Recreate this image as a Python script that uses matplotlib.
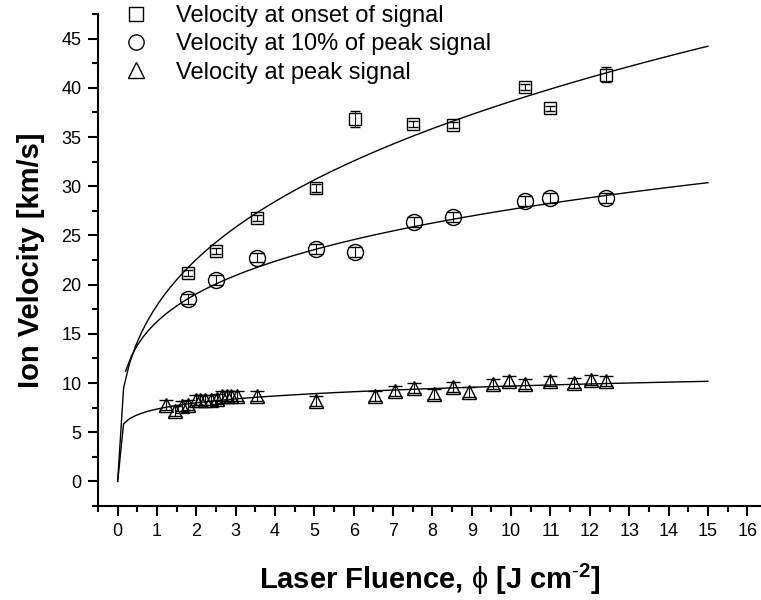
import numpy as np
import matplotlib
matplotlib.use('Agg')
import matplotlib.pyplot as plt
from matplotlib.ticker import MultipleLocator
from matplotlib.lines import Line2D

plt.rcParams['font.family'] = ['Liberation Sans', 'DejaVu Sans']
plt.rcParams['mathtext.fontset'] = 'custom'
plt.rcParams['mathtext.rm'] = 'Liberation Sans'
plt.rcParams['mathtext.bf'] = 'Liberation Sans:bold'

# velocity at onset of signal (squares)
onset_x = [1.78, 2.51, 3.55, 5.05, 6.02, 7.50, 8.51, 10.36, 11.00, 12.41]
onset_y = [21.2, 23.4, 26.75, 29.85, 36.8, 36.3, 36.2, 40.1, 37.9, 41.35]
onset_err = [0.3, 0.3, 0.3, 0.4, 0.8, 0.3, 0.3, 0.3, 0.3, 0.75]

# velocity at 10% of peak signal (circles)
ten_x = [1.78, 2.51, 3.55, 5.05, 6.02, 7.52, 8.51, 10.36, 11.00, 12.41]
ten_y = [18.56, 20.5, 22.75, 23.6, 23.3, 26.37, 26.9, 28.5, 28.84, 28.84]
ten_err = [0.5, 0.5, 0.5, 0.5, 0.5, 0.5, 0.5, 0.5, 0.5, 0.5]

# velocity at peak signal (triangles)
peak_x = [1.24, 1.45, 1.64, 1.78, 1.98, 2.10, 2.23, 2.36, 2.53, 2.64, 2.77, 2.89,
          3.02, 3.53, 5.05, 6.53, 7.06, 7.52, 8.05, 8.51, 8.93, 9.55, 9.95, 10.36,
          11.00, 11.60, 12.02, 12.41]
peak_y = [7.8, 7.13, 7.7, 7.8, 8.28, 8.28, 8.28, 8.28, 8.39, 8.72, 8.72, 8.72,
          8.72, 8.72, 8.15, 8.72, 9.16, 9.5, 8.9, 9.56, 9.06, 9.9, 10.17, 9.9,
          10.24, 9.97, 10.34, 10.17]
peak_err = [0.5] * len(peak_x)

# power law fits y = a * x^b, x range of each curve
fit_a = [17.9, 16.24, 7.35]
fit_b = [0.334, 0.231, 0.12]
fit_start = [0.0, 0.2, 0.0]
fit_end = 15.0

labels = ['Velocity at onset of signal', 'Velocity at 10% of peak signal',
          'Velocity at peak signal']
markers = ['s', 'o', '^']
sizes = [8, 11.5, 10.5]
legend_sizes = [9.5, 11, 12]

fig = plt.figure(figsize=(7.61, 6.0), dpi=100)
ax = fig.add_axes([98/761, 1 - 506/600, 1 - 98/761, (506 - 14)/600])

for a, b, x0 in zip(fit_a, fit_b, fit_start):
    xs = np.linspace(x0, fit_end, 101)
    ax.plot(xs, a * xs**b, color='k', lw=1.0)

series = [(onset_x, onset_y, onset_err), (ten_x, ten_y, ten_err), (peak_x, peak_y, peak_err)]
for (x, y, e), m, s in zip(series, markers, sizes):
    ax.errorbar(x, y, yerr=e, fmt=m, ms=s, mfc='none', mec='k', mew=1.0,
                ecolor='k', elinewidth=0.8, capsize=s*0.45, capthick=0.8)

ax.set_xlim(-0.5, 16.35)
ax.set_ylim(-2.5, 47.5)
ax.xaxis.set_major_locator(MultipleLocator(1))
ax.xaxis.set_minor_locator(MultipleLocator(0.5))
ax.yaxis.set_major_locator(MultipleLocator(5))
ax.yaxis.set_minor_locator(MultipleLocator(2.5))
ax.spines['top'].set_visible(False)
ax.spines['right'].set_visible(False)
ax.spines['left'].set_linewidth(1.5)
ax.spines['bottom'].set_linewidth(1.5)
ax.tick_params(which='major', direction='out', length=7, width=1.5, labelsize=13, pad=5)
ax.tick_params(which='minor', direction='out', length=4, width=1.5)
ax.set_xticks(range(0, 17))
ax.set_yticks(range(0, 46, 5))

ax.set_xlabel(r'Laser Fluence, $\mathrm{\phi}$ [J cm$^{\mathbf{\text{-}2}}$]', fontsize=21,
              fontweight='bold', labelpad=16)
ax.set_ylabel('Ion Velocity [km/s]', fontsize=21, fontweight='bold', labelpad=12)

handles = [Line2D([], [], ls='none', marker=m, ms=s, mfc='none', mec='k', mew=1.0)
           for m, s in zip(markers, legend_sizes)]
fig.legend(handles, labels, loc='upper left', bbox_to_anchor=(122/761, 1 - 5/600),
           frameon=False, fontsize=17, handlelength=1.2, handletextpad=1.1,
           labelspacing=0.27, borderpad=0, borderaxespad=0)

fig.savefig('out.png', dpi=100)
